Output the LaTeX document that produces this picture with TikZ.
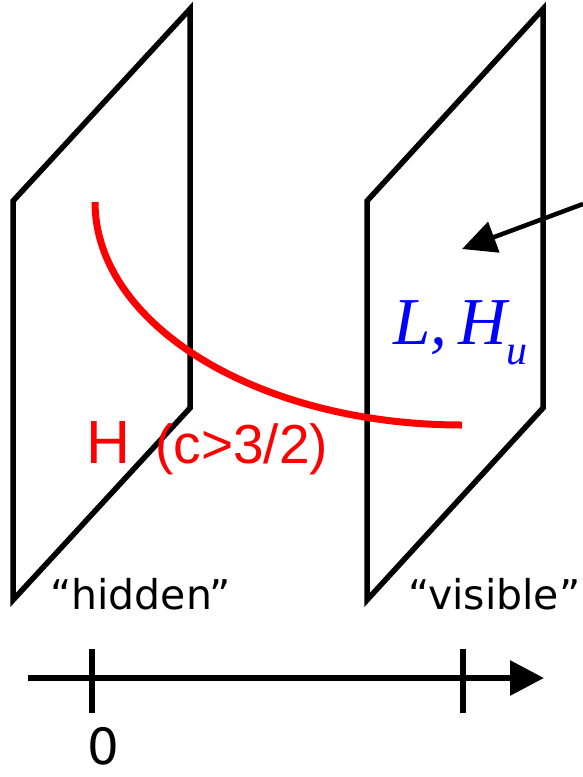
\documentclass[tikz,border=0pt]{standalone}
\usepackage{fontspec}
\setmainfont{Liberation Sans}
\newfontfamily\serifit{Liberation Serif}
\newfontfamily\labelfont{DejaVu Sans}
\usetikzlibrary{arrows.meta}
\tikzset{
  sheet/.style={line width=5.5pt, line join=miter},
  axisline/.style={line width=6pt},
  bigtip/.style={-{Triangle[length=34pt,width=34pt]}},
  tag/.style={anchor=base west, inner sep=0pt},
}
\begin{document}
\begin{tikzpicture}[x=1pt, y=-1pt]
        \useasboundingbox(0,0)rectangle(583,777);
        % hidden sheet
        \coordinate(A1)at(13,600);
        \coordinate(B1)at(13,201);
        \coordinate(C1)at(190,9);
        \coordinate(D1)at(190,408);
        % visible sheet
        \coordinate(A2)at(367,600);
        \coordinate(B2)at(367,201);
        \coordinate(C2)at(543,9);
        \coordinate(D2)at(543,408);
        \draw[sheet](A1)--(B1)--(C1)--(D1)--cycle;
        \draw[sheet](A2)--(B2)--(C2)--(D2)--cycle;
        % bulk curve
        \coordinate(P)at(95,202);
        \coordinate(Q)at(462,425);
        \draw[red, line width=7pt](P)..controls(95,325)and(259,425)..(Q);
        \node[red, tag](H)at(86,463){\fontsize{61}{61}\selectfont H};
        \node[red, tag](cond)at(155,463){\fontsize{55}{55}\selectfont(c>3/2)};
        \node[blue, tag](LH)at(393,344)
            {\serifit\itshape\fontsize{67}{67}\selectfont L,\,H\raisebox{-0.3em}{\fontsize{42}{42}\selectfont u}};
        % pointer
        \coordinate(R)at(583,204);
        \coordinate(S)at(462,249);
        \draw[line width=4.5pt, -{Triangle[length=34pt,width=32pt]}](R)--(S);
        % labels
        \node[tag](hid)at(50,609){\labelfont\fontsize{41}{41}\selectfont “hidden”};
        \node[tag](vis)at(408,609){\labelfont\fontsize{41}{41}\selectfont “visible”};
        % axis
        \coordinate(X0)at(28,678);
        \coordinate(X1)at(544,678);
        \draw[axisline, bigtip](X0)--(X1);
        \draw[axisline](92,649)--(92,713);
        \draw[axisline](463,649)--(463,713);
        \node[anchor=base, inner sep=0pt](zero)at(103,764){\labelfont\fontsize{50}{50}\selectfont 0};
    \end{tikzpicture}
\end{document}
